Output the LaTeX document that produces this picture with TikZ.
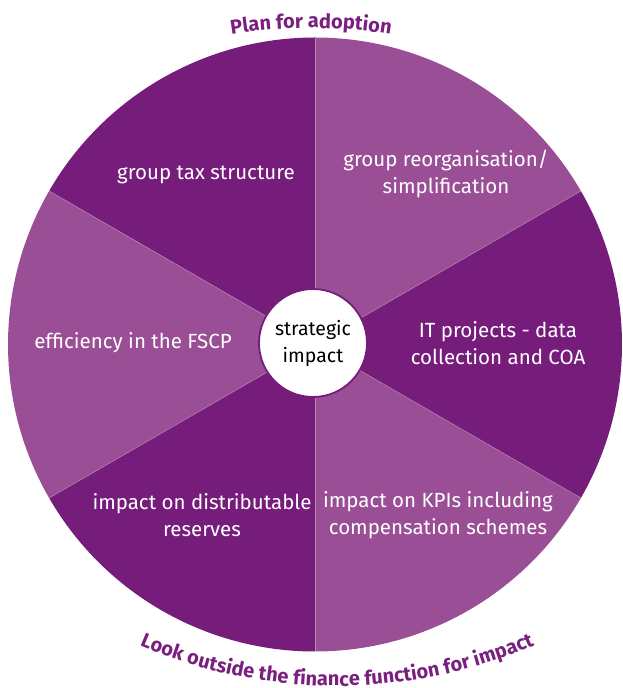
\documentclass[tikz,border=0pt]{standalone}
\usepackage{fontspec}
\setsansfont{Fira Sans}
\usetikzlibrary{decorations.text}
\definecolor{plum}{HTML}{761C7B}
\definecolor{orchid}{HTML}{9A4E96}
\definecolor{seam}{HTML}{B786B3}
\definecolor{ink}{HTML}{7A1F7F}
\tikzset{
  font=\sffamily,
  darksector/.style={fill=plum},
  lightsector/.style={fill=orchid},
  seamline/.style={draw=seam, line width=0.5pt},
  slicetext/.style={text=white, align=center, font=\sffamily\fontsize{20.5}{27}\selectfont},
  hub/.style={circle, draw=plum, line width=1.8pt, fill=white, minimum size=108pt, inner sep=0pt,
    align=center, font=\sffamily\fontsize{19.5}{27}\selectfont},
  rimtext/.style={decorate, decoration={text along path, text align=center, text={#1}}}
}

\begin{document}
\begin{tikzpicture}[x=1pt, y=1pt]
  \useasboundingbox (0,0) rectangle (622,688);
  \coordinate (core) at (315,343.5);

  % six slices, alternating shades
  \foreach \a/\s in {30/lightsector, 90/darksector, 150/lightsector, 210/darksector, 270/lightsector, 330/darksector} {
    \path[\s] (core) -- ++(\a:307) arc[start angle=\a, end angle=\a+60, radius=307] -- cycle;
  }
  \foreach \a in {30,90,...,330} {
    \draw[seamline] (core) -- ++(\a:307);
  }

  \node[slicetext] (tax) at (206,513) {group tax structure};
  \node[slicetext] (reorg) at (446,514) {group reorganisation/\\simplification};
  \node[slicetext] (fscp) at (133,345) {efficiency in the FSCP};
  \node[slicetext] (itproj) at (498,345) {IT projects - data\\collection and COA};
  \node[slicetext] (reserves) at (202,173) {impact on distributable\\reserves};
  \node[slicetext] (kpis) at (438,173) {impact on KPIs including\\compensation schemes};

  \node[hub] (hubnode) at (313,345) {strategic\\impact};

  % curved captions above and below the wheel
  \path[rimtext={|\sffamily\bfseries\fontsize{20}{20}\selectfont\color{ink}|Plan for adoption}]
    (311,160) ++(120:500) arc[start angle=120, end angle=60, radius=500];
  \path[rimtext={|\sffamily\bfseries\fontsize{20}{20}\selectfont\color{ink}|Look outside the finance function for impact}]
    (337,502) ++(236:500) arc[start angle=236, end angle=304, radius=500];
\end{tikzpicture}
\end{document}
